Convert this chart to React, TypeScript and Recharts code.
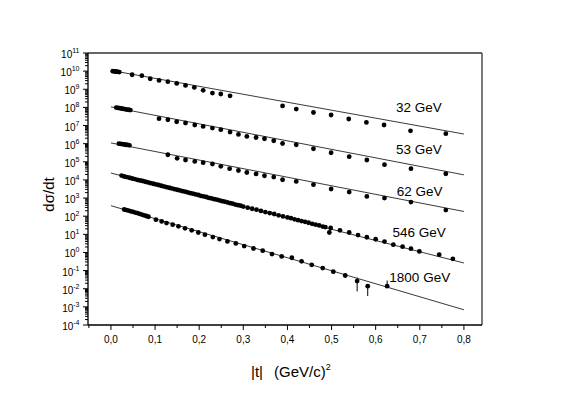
import React from "react";
import {
  ScatterChart,
  Scatter,
  XAxis,
  YAxis,
  ReferenceLine,
  ReferenceDot,
  ErrorBar,
} from "recharts";

const FONT = '"Liberation Sans", Arial, Helvetica, sans-serif';

// [|t|, log10(dσ/dt)] (each energy shifted by 10^2)
const s32: [number, number][] = [
  [0.004, 10.0], [0.007, 9.99], [0.01, 9.98], [0.013, 9.97], [0.016, 9.96], [0.019, 9.95],
  [0.048, 9.8], [0.07, 9.75], [0.089, 9.58], [0.109, 9.49], [0.129, 9.42], [0.149, 9.32],
  [0.169, 9.21], [0.189, 9.1], [0.209, 8.94], [0.23, 8.79], [0.249, 8.74], [0.27, 8.64],
  [0.389, 8.08], [0.42, 7.91], [0.459, 7.72], [0.499, 7.58], [0.539, 7.36], [0.579, 7.17],
  [0.619, 7.03], [0.679, 6.71], [0.759, 6.55],
];

const s53: [number, number][] = [
  [0.012, 7.99], [0.016, 7.97], [0.02, 7.96], [0.024, 7.94], [0.028, 7.92], [0.032, 7.9],
  [0.036, 7.88], [0.04, 7.87], [0.044, 7.85],
  [0.109, 7.38], [0.129, 7.32], [0.149, 7.21], [0.169, 7.14], [0.19, 7.03], [0.209, 6.95],
  [0.23, 6.86], [0.249, 6.77], [0.27, 6.64], [0.289, 6.51], [0.308, 6.4], [0.329, 6.34],
  [0.348, 6.27], [0.369, 6.16], [0.389, 6.01],
  [0.42, 5.94], [0.459, 5.72], [0.499, 5.5], [0.54, 5.28], [0.58, 5.1], [0.62, 4.84],
  [0.68, 4.62], [0.759, 4.34],
];

const s62: [number, number][] = [
  [0.018, 6.0], [0.022, 5.99], [0.026, 5.97], [0.03, 5.96], [0.034, 5.94], [0.038, 5.93], [0.042, 5.91],
  [0.129, 5.39], [0.15, 5.19], [0.169, 5.1], [0.19, 5.02], [0.209, 4.95], [0.23, 4.88],
  [0.249, 4.75], [0.269, 4.62], [0.289, 4.52], [0.308, 4.41], [0.329, 4.33], [0.348, 4.23],
  [0.369, 4.16], [0.389, 4.01],
  [0.42, 3.92], [0.459, 3.74], [0.499, 3.5], [0.54, 3.33], [0.58, 3.09], [0.62, 3.0],
  [0.68, 2.78], [0.759, 2.34],
];

const s546: [number, number][] = [
  [0.024, 4.24], [0.03, 4.19], [0.036, 4.16], [0.042, 4.12], [0.048, 4.08], [0.054, 4.05],
  [0.06, 4.0], [0.066, 3.97], [0.072, 3.94], [0.078, 3.9], [0.084, 3.86], [0.09, 3.82],
  [0.096, 3.79], [0.102, 3.75], [0.108, 3.72], [0.114, 3.68], [0.12, 3.64], [0.126, 3.6],
  [0.132, 3.57], [0.138, 3.53], [0.144, 3.49], [0.15, 3.46], [0.156, 3.42], [0.162, 3.38],
  [0.168, 3.35], [0.174, 3.31], [0.18, 3.27], [0.186, 3.24], [0.192, 3.2], [0.198, 3.17],
  [0.204, 3.12], [0.21, 3.09], [0.216, 3.06], [0.222, 3.01], [0.228, 2.98], [0.234, 2.94],
  [0.24, 2.91], [0.246, 2.87], [0.252, 2.83], [0.258, 2.8], [0.264, 2.76], [0.27, 2.72],
  [0.276, 2.69], [0.282, 2.64], [0.288, 2.61], [0.294, 2.58], [0.3, 2.53],
  [0.31, 2.47], [0.32, 2.41], [0.33, 2.36], [0.34, 2.29], [0.35, 2.23], [0.36, 2.17],
  [0.37, 2.12], [0.38, 2.05], [0.39, 1.99], [0.4, 1.93], [0.408, 1.89], [0.416, 1.83],
  [0.424, 1.78], [0.432, 1.73], [0.44, 1.69], [0.448, 1.64], [0.456, 1.58], [0.464, 1.53],
  [0.472, 1.49], [0.48, 1.43], [0.486, 1.4], [0.495, 1.1], [0.498, 1.35],
  [0.519, 1.22], [0.54, 1.1], [0.56, 0.96], [0.58, 0.84], [0.6, 0.73], [0.62, 0.6],
  [0.64, 0.43], [0.661, 0.32], [0.68, 0.21], [0.699, 0.06], [0.744, -0.12], [0.775, -0.35],
];

const s1800: [number, number][] = [
  [0.03, 2.37], [0.035, 2.34], [0.04, 2.31], [0.045, 2.27], [0.05, 2.24], [0.055, 2.2],
  [0.06, 2.17], [0.065, 2.13], [0.07, 2.09], [0.075, 2.05], [0.08, 2.01], [0.085, 1.97],
  [0.102, 1.81], [0.115, 1.71], [0.126, 1.62], [0.14, 1.53], [0.153, 1.44], [0.168, 1.33],
  [0.183, 1.22], [0.198, 1.1], [0.213, 0.98], [0.231, 0.85], [0.246, 0.74], [0.264, 0.61],
  [0.283, 0.5], [0.302, 0.35], [0.323, 0.22], [0.344, 0.1], [0.365, -0.09], [0.387, -0.22],
  [0.41, -0.29], [0.432, -0.49], [0.455, -0.68], [0.48, -0.86],
];

// [|t|, log10 value, log10 lower end, log10 upper end]
const s1800err: [number, number, number, number][] = [
  [0.504, -1.06, -1.14, -0.98],
  [0.531, -1.27, -1.38, -1.17],
  [0.558, -1.58, -2.15, -1.38],
  [0.582, -1.86, -2.4, -1.78],
  [0.626, -1.86, -1.92, -1.55],
];

// fit lines: [|t|, log10]
const fit32: [number, number][] = [[0, 10.04], [0.8, 6.53]];
const fit53: [number, number][] = [[0, 8.03], [0.8, 4.28]];
const fit62: [number, number][] = [[0, 6.04], [0.8, 2.26]];
const fit546: [number, number][] = [[0, 4.38], [0.8, -0.58]];
const fit1800: [number, number][] = [[0, 2.58], [0.8, -3.16]];

const seriesLabels = ["32 GeV", "53 GeV", "62 GeV", "546 GeV", "1800 GeV"];
const labelAt: [number, number][] = [[0.646, 8.0], [0.646, 5.7], [0.648, 3.4], [0.638, 1.1], [0.631, -1.36]];

const decades = [-4, -3, -2, -1, 0, 1, 2, 3, 4, 5, 6, 7, 8, 9, 10, 11];
const xMajor = [0, 0.1, 0.2, 0.3, 0.4, 0.5, 0.6, 0.7, 0.8];
const xMinor = [-0.05, 0.05, 0.15, 0.25, 0.35, 0.45, 0.55, 0.65, 0.75];

const yTicks = [
  ...decades.map((k) => Math.pow(10, k)),
  ...decades.slice(0, -1).flatMap((k) => [2, 3, 4, 5, 6, 7, 8, 9].map((m) => m * Math.pow(10, k))),
];
const xTicks = [...xMinor, ...xMajor].sort((a, b) => a - b);

const toPts = (arr: [number, number][]) => arr.map(([t, lg]) => ({ t, y: Math.pow(10, lg) }));

const errPts = s1800err.map(([t, lg, lo, hi]) => {
  const y = Math.pow(10, lg);
  return { t, y, err: [y - Math.pow(10, lo), Math.pow(10, hi) - y] };
});

const Dot = (p: any) => <circle cx={p.cx} cy={p.cy} r={2.4} fill="#000" />;
const NoDot = () => <g />;

function YTick({ x, y, payload }: any) {
  const v = payload.value;
  const lg = Math.log10(v);
  const e = Math.round(lg);
  if (Math.abs(lg - e) > 1e-6) {
    return <line x1={x - 3} x2={x} y1={y} y2={y} stroke="#000" strokeWidth={1} />;
  }
  return (
    <g>
      <line x1={x - 5} x2={x} y1={y} y2={y} stroke="#000" strokeWidth={1} />
      <text x={x - 8.5} y={y + 5} textAnchor="end" fontSize={10} fontFamily={FONT} fill="#000">
        10<tspan dy={-5} fontSize={7}>{e}</tspan>
      </text>
    </g>
  );
}

function XTick({ x, y, payload }: any) {
  const v = payload.value;
  const major = Math.abs(v * 10 - Math.round(v * 10)) < 1e-6;
  if (!major) {
    return <line x1={x} x2={x} y1={y} y2={y + 3} stroke="#000" strokeWidth={1} />;
  }
  return (
    <g>
      <line x1={x} x2={x} y1={y} y2={y + 5} stroke="#000" strokeWidth={1} />
      <text x={x} y={y + 18} textAnchor="middle" fontSize={10} fontFamily={FONT} fill="#000">
        {v.toFixed(1).replace(".", ",")}
      </text>
    </g>
  );
}

const XTitle = () => (
  <text y={369} fontSize={15} fontFamily={FONT} fill="#000">
    <tspan x={243}>|t|</tspan>
    <tspan x={266}>(GeV/c)</tspan>
    <tspan dy={-7} fontSize={9}>2</tspan>
  </text>
);

const YTitle = () => (
  <text
    x={40.5}
    y={186.5}
    dy="0.35em"
    textAnchor="middle"
    fontSize={15}
    fontFamily={FONT}
    fill="#000"
    transform="rotate(-90 40.5 186.5)"
  >
    dσ/dt
  </text>
);

const SeriesLabel = ({ viewBox, text }: any) => (
  <text x={viewBox.x} y={viewBox.y} dy="0.35em" fontSize={13.5} fontFamily={FONT} fill="#000">
    {text}
  </text>
);

const fits = [fit32, fit53, fit62, fit546, fit1800];
const sets = [s32, s53, s62, s546, s1800];

export default function App() {
  return (
    <div style={{ fontFamily: FONT }}>
      <ScatterChart width={545} height={378} margin={{ top: 45, right: 71, bottom: 31, left: 0 }}>
        <XAxis
          dataKey="t"
          type="number"
          domain={[-0.052, 0.841]}
          ticks={xTicks}
          interval={0}
          allowDataOverflow
          height={30}
          tickSize={0}
          tickMargin={0}
          tickLine={false}
          tick={<XTick />}
          axisLine={{ stroke: "#000", strokeWidth: 1.3 }}
          label={<XTitle />}
        />
        <YAxis
          dataKey="y"
          type="number"
          scale="log"
          domain={[1e-4, 1e11]}
          ticks={yTicks}
          interval={0}
          allowDataOverflow
          width={80}
          tickSize={0}
          tickMargin={0}
          tickLine={false}
          tick={<YTick />}
          axisLine={{ stroke: "#000", strokeWidth: 1.3 }}
          label={<YTitle />}
        />
        <ReferenceLine y={1e11} stroke="#333" strokeWidth={1.5} />
        <ReferenceLine x={0.841} stroke="#333" strokeWidth={1.3} />
        {fits.map((f, i) => (
          <Scatter
            key={`fit-${i}`}
            data={toPts(f)}
            line={{ stroke: "#222", strokeWidth: 0.9 }}
            shape={NoDot}
            isAnimationActive={false}
          />
        ))}
        {sets.map((s, i) => (
          <Scatter key={`set-${i}`} data={toPts(s)} shape={Dot} isAnimationActive={false} />
        ))}
        <Scatter data={errPts} shape={Dot} isAnimationActive={false}>
          <ErrorBar dataKey="err" direction="y" width={0} stroke="#000" strokeWidth={1} />
        </Scatter>
        {seriesLabels.map((name, i) => (
          <ReferenceDot
            key={name}
            x={labelAt[i][0]}
            y={Math.pow(10, labelAt[i][1])}
            r={0}
            fill="none"
            stroke="none"
            label={<SeriesLabel text={name} />}
          />
        ))}
      </ScatterChart>
    </div>
  );
}
